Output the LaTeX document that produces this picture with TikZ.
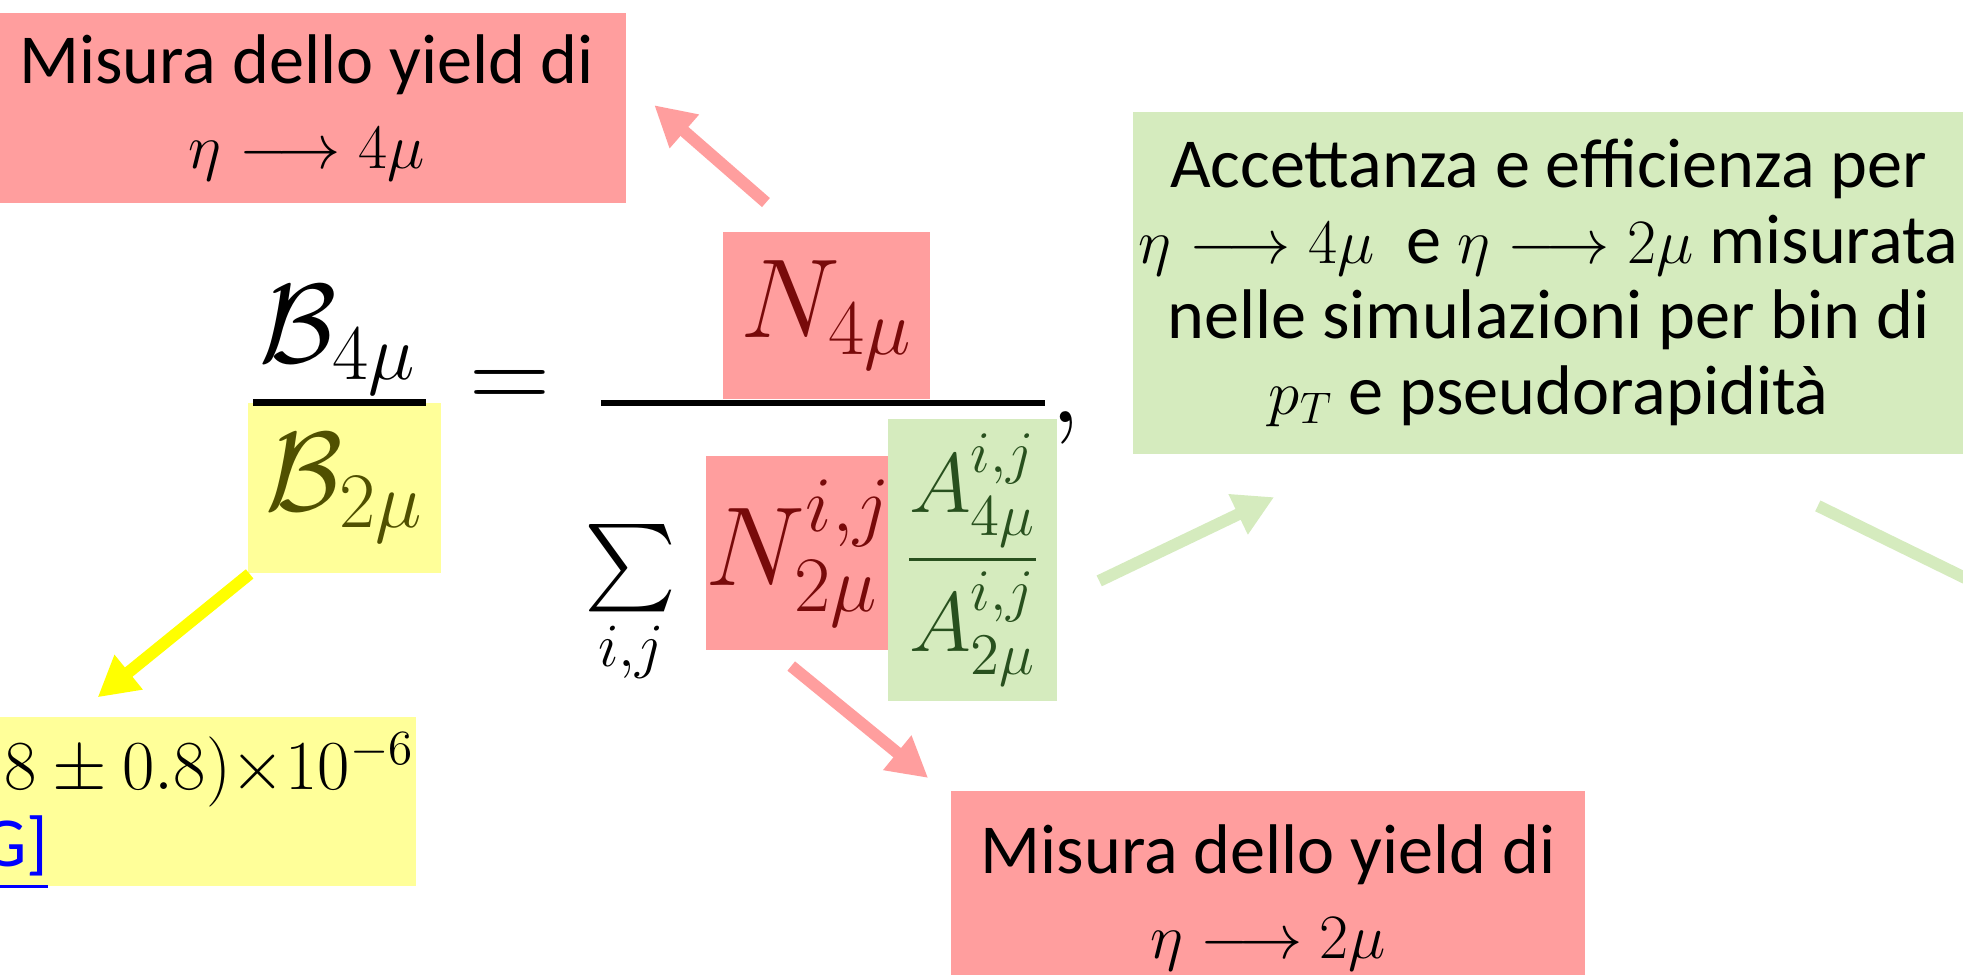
\RequirePackage{fix-cm}
\documentclass[tikz,border=0pt]{standalone}
\usepackage{amsmath}
\usepackage[no-math]{fontspec}
\setmainfont{Carlito}
\usetikzlibrary{arrows.meta, calc, positioning}
\definecolor{boxRed}{RGB}{255,158,158}
\definecolor{boxYellow}{RGB}{255,255,153}
\definecolor{boxGreen}{RGB}{213,235,190}
\definecolor{arrowYellow}{RGB}{255,255,0}
\definecolor{inkRed}{RGB}{120,10,10}
\definecolor{inkOlive}{RGB}{80,80,0}
\definecolor{inkGreen}{RGB}{40,80,30}
\definecolor{linkBlue}{RGB}{0,0,255}
\newcommand{\smath}[1]{{\fontsize{18}{20}\selectfont$#1$}}

\begin{document}
\begin{tikzpicture}[
  x=0.01252cm, y=-0.01252cm,
  box/.style={rectangle, fill=#1, inner sep=0pt, align=center},
  txt/.style={font=\fontsize{20}{24}\selectfont},
  fml/.style={font=\fontsize{32}{36}\selectfont},
  arr/.style={-{Triangle[length=0.4cm, width=0.42cm]},
    line width=0.12cm, draw=#1},
  fracbar/.style={line width=1.8pt}
]
  \useasboundingbox (0,0) rectangle (1568,778);

  % explanation boxes
  \node[box=boxRed, txt, minimum width=6.39cm, minimum height=1.9cm]
    (yield4) at (245,86) {Misura dello yield di\\ \smath{\eta \longrightarrow 4\mu}};
  \node[box=boxGreen, font=\fontsize{20}{21.5}\selectfont,
    minimum width=8.31cm, minimum height=3.42cm] (accbox) at (1237,226)
    {Accettanza e efficienza per\\
     \smath{\eta \longrightarrow 4\mu}\ \ e \smath{\eta \longrightarrow 2\mu} misurata\\
     nelle simulazioni per bin di\\
     \smath{p_T} e pseudorapidità};
  \node[box=boxRed, txt, minimum width=6.34cm, minimum height=2.13cm]
    (yield2) at (1013,717) {Misura dello yield di\\ \smath{\eta \longrightarrow 2\mu}};
  \node[box=boxYellow, minimum width=4.67cm, minimum height=1.69cm]
    (pdgbox) at (146,640) {};
  \node[anchor=base west, inner sep=0pt, font=\fontsize{20}{24}\selectfont]
    (pdgval) at (3,631) {$8 \pm 0.8){\times}10^{-6}$};
  \node[anchor=base east, inner sep=0pt, font=\fontsize{20}{24}\selectfont,
    text=linkBlue] (pdgref) at (39,692) {\underline{G]}};

  % the ratio
  \node[fml, inner sep=0pt] (b4) at (270,272) {$\mathcal{B}_{4\mu}$};
  \node[box=boxYellow, fml, text=inkOlive, minimum width=1.93cm,
    minimum height=1.70cm] (b2) at (275,390) {$\mathcal{B}_{2\mu}$};
  \draw[fracbar] ($(b2.north west)+(5,0)$) -- ($(b2.north east)+(-12,0)$);
  \node[fml] (eq) at (407,312) {$=$};
  \node[box=boxRed, fml, text=inkRed, minimum width=2.07cm,
    minimum height=1.67cm] (n4) at (660,252) {$N_{4\mu}$};
  \draw[fracbar] (480,322) -- (835,322);
  \node[font=\fontsize{25}{30}\selectfont] (sum) at (504,484)
    {$\sum\limits_{i,j}$};
  \node[box=boxRed, fml, text=inkRed, minimum width=1.69cm,
    minimum height=1.94cm] (n2) at (638,442) {$N^{i,j}_{2\mu}$};
  \node[box=boxGreen, font=\fontsize{24}{28}\selectfont, text=inkGreen,
    minimum width=1.69cm, minimum height=2.82cm] (afrac) at (777,447)
    {$\dfrac{A^{i,j}_{4\mu}}{A^{i,j}_{2\mu}}$};
  \node[fml] (comma) at (851,342) {$,$};

  % arrows
  \draw[arr=boxRed] ($(n4.north west)+(35,-23)$) -- ($(yield4.east)+(22,-2)$);
  \draw[arr=arrowYellow] ($(b2.south west)+(2,0)$) -- ($(pdgbox.north)+(-68,-15)$);
  \draw[arr=boxRed] ($(n2.south)+(-6,12)$) -- ($(yield2.north west)+(-18,-10)$);
  \draw[arr=boxGreen] ($(afrac.east)+(33,17)$) -- ($(accbox.south west)+(113,34)$);
  \draw[arr=boxGreen] ($(accbox.south)+(215,41)$) -- ($(accbox.south east)+(36,116)$);
\end{tikzpicture}
\end{document}
